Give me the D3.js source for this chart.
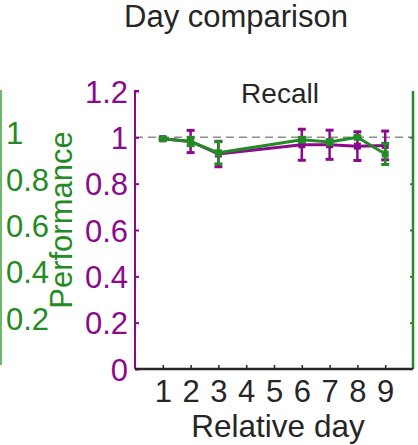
<!DOCTYPE html>
<html>
<head>
<meta charset="utf-8">
<script src="https://cdn.jsdelivr.net/npm/d3@7"></script>
<style>
  html, body { margin: 0; padding: 0; background: #fff; }
  svg { display: block; font-family: Arial, "Liberation Sans", sans-serif; }
</style>
</head>
<body>
<svg id="chart" width="418" height="445"></svg>
<script>
// Relative days that were recorded
const days = [1, 2, 3, 6, 7, 8, 9];
// Purple series: mean and error
const purpleMean = [0.994, 0.982, 0.928, 0.968, 0.968, 0.962, 0.965];
const purpleErr  = [0.004, 0.048, 0.055, 0.067, 0.063, 0.062, 0.062];
// Green series: mean and error
const greenMean  = [0.994, 0.982, 0.933, 0.990, 0.980, 1.000, 0.928];
const greenErr   = [0.004, 0.018, 0.048, 0.010, 0.010, 0.003, 0.045];
// Axis ticks
const xTicks = [1, 2, 3, 4, 5, 6, 7, 8, 9];
const yTicks = [0, 0.2, 0.4, 0.6, 0.8, 1, 1.2];
const greenTicks = [0.2, 0.4, 0.6, 0.8, 1];

const PURPLE = "#8b0a8b";
const GREEN = "#238b23";
const GREEN_LIGHT = "#6cb86c";
const INK = "#262626";
const FS = 31;

const svg = d3.select("#chart");
const x = d3.scaleLinear().domain([0, 10]).range([135, 413]);
const y = d3.scaleLinear().domain([0, 1.2]).range([369, 91]);
const yGreen = d3.scaleLinear().domain([0, 1.2]).range([365, 87]);

// Title
svg.append("text").attr("x", 236).attr("y", 27).attr("text-anchor", "middle")
  .attr("font-size", 31).attr("fill", INK).text("Day comparison");

// Reference line at 1
svg.append("line").attr("x1", x(0)).attr("x2", x(10)).attr("y1", y(1)).attr("y2", y(1))
  .attr("stroke", "#8c8c8c").attr("stroke-width", 1.5).attr("stroke-dasharray", "8,5");

// Left purple axis
const yAxis = d3.axisRight(y).tickValues(yTicks).tickSize(4).tickFormat(d3.format("~g"));
const ya = svg.append("g").attr("transform", `translate(${x(0)},0)`).call(yAxis);
ya.select(".domain").attr("stroke", PURPLE).attr("stroke-width", 2).attr("d", `M4,${y(1.2)}H0V${y(0)}`);
ya.selectAll(".tick line").attr("stroke", PURPLE).attr("stroke-width", 2);
ya.selectAll(".tick text").attr("x", -7).attr("text-anchor", "end").attr("fill", PURPLE)
  .attr("font-size", FS).attr("dy", "0.36em");

// Right green axis
const yRight = d3.axisLeft(y).tickValues(greenTicks).tickSize(3).tickFormat("");
const yr = svg.append("g").attr("transform", `translate(${x(10)},0)`).call(yRight);
yr.select(".domain").attr("stroke", GREEN).attr("stroke-width", 2.5).attr("d", `M0,${y(1.2)}V${y(0)}`);
yr.selectAll(".tick line").attr("stroke", GREEN).attr("stroke-width", 2);

// Far-left green axis
const yl = svg.append("g").attr("transform", "translate(1,0)");
yl.append("line").attr("x1", 0).attr("x2", 0).attr("y1", yGreen(1.2) + 3).attr("y2", yGreen(0))
  .attr("stroke", GREEN_LIGHT).attr("stroke-width", 2);
yl.selectAll("text").data(greenTicks).join("text")
  .attr("x", 5).attr("y", d => yGreen(d)).attr("dy", "0.36em")
  .attr("fill", GREEN).attr("font-size", FS).text(d3.format("~g"));

// Green y label
svg.append("text").attr("transform", "translate(72,220) rotate(-90)").attr("text-anchor", "middle")
  .attr("fill", GREEN).attr("font-size", FS).text("Performance");

// X axis
const xAxis = d3.axisBottom(x).tickValues(xTicks).tickSize(-4).tickFormat(d3.format("d"));
const xa = svg.append("g").attr("transform", `translate(0,${y(0)})`).call(xAxis);
xa.select(".domain").attr("stroke", INK).attr("stroke-width", 2.5).attr("d", `M${x(0)},0H${x(10)}`);
xa.selectAll(".tick line").attr("stroke", INK).attr("stroke-width", 1.5);
xa.selectAll(".tick text").attr("y", 33).attr("dy", 0).attr("fill", INK).attr("font-size", FS);

svg.append("text").attr("x", 278).attr("y", 437).attr("text-anchor", "middle")
  .attr("font-size", 31.5).attr("fill", INK).text("Relative day");

// Panel label
svg.append("text").attr("x", 280).attr("y", 103).attr("text-anchor", "middle")
  .attr("font-size", 28).attr("fill", INK).text("Recall");

// Series drawing
function drawSeries(means, errs, color) {
  const pts = days.map((d, i) => ({ d, m: means[i], e: errs[i] }));
  const g = svg.append("g");
  g.append("path").datum(pts)
    .attr("d", d3.line().x(p => x(p.d)).y(p => y(p.m)))
    .attr("fill", "none").attr("stroke", color).attr("stroke-width", 3);
  const eb = g.selectAll("g.eb").data(pts).join("g");
  eb.append("line").attr("x1", p => x(p.d)).attr("x2", p => x(p.d))
    .attr("y1", p => y(p.m - p.e)).attr("y2", p => y(p.m + p.e))
    .attr("stroke", color).attr("stroke-width", 2.5);
  [-1, 1].forEach(s => {
    eb.append("line").attr("x1", p => x(p.d) - 4).attr("x2", p => x(p.d) + 4)
      .attr("y1", p => y(p.m + s * p.e)).attr("y2", p => y(p.m + s * p.e))
      .attr("stroke", color).attr("stroke-width", 3);
  });
  eb.append("rect").attr("x", p => x(p.d) - 3.5).attr("y", p => y(p.m) - 3.5)
    .attr("width", 7).attr("height", 7).attr("fill", color);
}
drawSeries(purpleMean, purpleErr, PURPLE);
drawSeries(greenMean, greenErr, GREEN);
</script>
</body>
</html>
